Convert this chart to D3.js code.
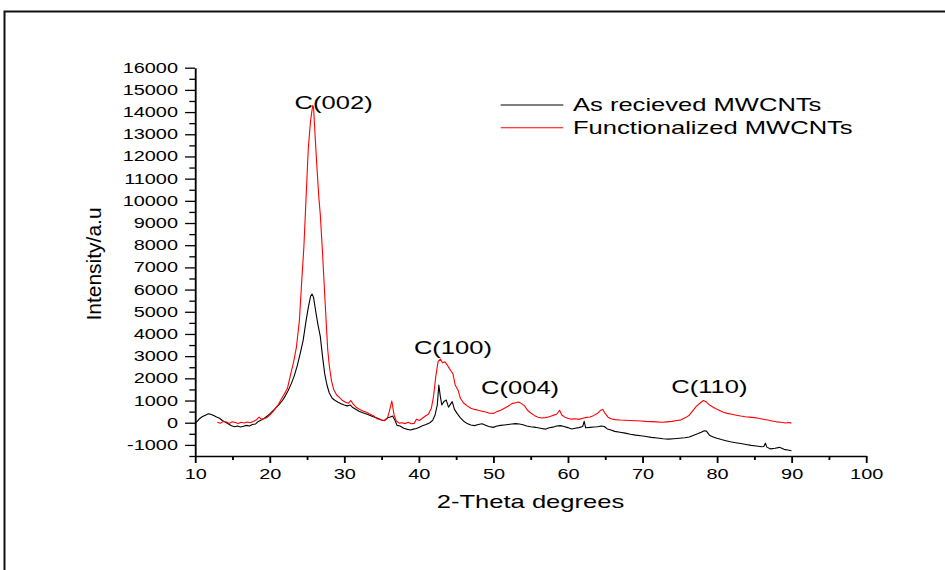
<!DOCTYPE html>
<html>
<head>
<meta charset="utf-8">
<script src="https://cdn.jsdelivr.net/npm/d3@7"></script>
<style>
  body { margin: 0; background: #fff; }
  svg { display: block; }
  text { font-family: "Liberation Sans", Arial, sans-serif; fill: #000; }
</style>
</head>
<body>
<div id="chart"></div>
<script>
var W = 945;
var H = 570;
var SX = 1.42; // the original picture is stretched sideways

// As received MWCNTs: [2-theta, intensity]
var asReceived = [
  [10.0,-40],[10.3,60],[10.6,180],[11.0,280],[11.4,340],[11.8,400],[12.1,380],[12.5,330],
  [12.9,260],[13.3,200],[13.7,90],[14.1,20],[14.5,-60],[14.9,-140],[15.3,-180],[15.7,-150],
  [16.1,-190],[16.5,-160],[16.9,-120],[17.3,-150],[17.7,-80],[18.1,-60],[18.5,60],[18.9,120],
  [19.3,200],[19.7,300],[20.1,420],[20.5,550],[20.9,690],[21.3,830],[21.7,990],[22.1,1200],
  [22.5,1450],[22.9,1750],[23.3,2100],[23.7,2550],[24.1,3100],[24.5,3700],[24.9,4600],[25.2,5200],
  [25.5,5700],[25.7,5800],[25.9,5650],[26.2,5000],[26.5,4400],[26.8,3900],[27.1,3000],[27.4,2200],
  [27.7,1700],[28.0,1350],[28.4,1100],[28.8,1000],[29.2,920],[29.6,860],[30.0,800],[30.4,760],
  [30.8,800],[31.1,700],[31.5,620],[32.0,520],[32.5,450],[33.0,390],[33.5,330],[34.0,260],
  [34.5,200],[35.0,120],[35.4,100],[35.8,220],[36.2,260],[36.5,300],[36.8,120],[37.1,-120],
  [37.5,-150],[38.0,-250],[38.5,-300],[38.9,-330],[39.3,-290],[39.7,-260],[40.1,-200],[40.5,-140],
  [41.0,-80],[41.5,0],[41.9,120],[42.2,350],[42.5,800],[42.7,1700],[42.9,1200],[43.1,800],
  [43.4,960],[43.7,1020],[44.0,700],[44.3,850],[44.5,950],[44.8,600],[45.2,400],[45.6,220],
  [46.0,80],[46.5,-40],[47.0,-100],[47.5,-130],[48.0,-80],[48.5,-50],[48.9,-100],[49.4,-170],
  [50.0,-210],[50.5,-150],[51.0,-120],[51.5,-100],[52.0,-80],[52.5,-60],[53.0,-40],[53.5,-60],
  [54.0,-90],[54.5,-150],[55.0,-180],[55.5,-200],[56.0,-230],[56.5,-260],[57.0,-290],[57.5,-230],
  [58.0,-200],[58.5,-150],[59.0,-130],[59.5,-170],[60.0,-220],[60.5,-280],[61.0,-250],[61.5,-220],
  [62.0,-170],[62.2,60],[62.4,-230],[63.0,-210],[63.5,-190],[64.0,-180],[64.5,-150],[64.9,-170],
  [65.3,-280],[65.8,-330],[66.3,-390],[67.0,-430],[67.7,-470],[68.4,-520],[69.1,-560],[69.8,-590],
  [70.5,-620],[71.2,-660],[72.0,-690],[72.8,-720],[73.5,-740],[74.2,-720],[75.0,-700],[75.7,-680],
  [76.3,-640],[76.9,-560],[77.4,-500],[77.9,-430],[78.3,-360],[78.6,-380],[79.0,-560],[79.5,-640],
  [80.0,-700],[80.6,-760],[81.2,-810],[81.8,-860],[82.5,-900],[83.2,-940],[83.9,-980],[84.6,-1020],
  [85.3,-1050],[86.0,-1080],[86.3,-1070],[86.5,-920],[86.7,-1100],[87.2,-1180],[87.8,-1150],[88.4,-1110],
  [89.0,-1200],[89.5,-1230],[90.0,-1260]
];

// Functionalized MWCNTs: [2-theta, intensity]
var functionalized = [
  [13.0,20],[13.4,-20],[13.8,60],[14.2,30],[14.6,-30],[15.0,40],[15.4,10],[15.8,-40],
  [16.2,20],[16.6,-10],[17.0,30],[17.4,0],[17.8,60],[18.2,120],[18.6,250],[18.9,150],
  [19.2,180],[19.6,220],[20.0,330],[20.4,480],[20.8,650],[21.2,830],[21.6,1080],[22.0,1300],
  [22.4,1550],[22.8,2150],[23.2,2700],[23.6,3400],[24.0,4600],[24.3,6300],[24.6,7900],[24.8,9400],
  [25.0,10900],[25.2,12400],[25.5,13600],[25.7,14100],[25.8,14300],[25.9,14200],[26.1,13000],[26.3,11800],
  [26.6,10200],[26.8,9400],[27.1,7700],[27.3,6400],[27.6,4500],[27.8,3300],[28.0,2600],[28.3,1900],
  [28.6,1500],[29.0,1250],[29.4,1130],[29.8,1000],[30.2,920],[30.6,880],[30.9,1000],[31.2,850],
  [31.6,700],[32.1,600],[32.6,520],[33.0,470],[33.5,380],[34.0,300],[34.4,180],[34.9,130],
  [35.4,90],[35.8,200],[36.1,560],[36.4,980],[36.7,350],[37.0,80],[37.4,-20],[37.8,0],
  [38.2,-40],[38.6,20],[39.0,-50],[39.4,-30],[39.7,160],[40.1,100],[40.5,200],[40.9,300],
  [41.3,380],[41.7,650],[42.0,1200],[42.3,2100],[42.6,2750],[42.9,2870],[43.2,2700],[43.5,2750],
  [43.8,2620],[44.1,2450],[44.4,2300],[44.6,2200],[44.9,1700],[45.3,1450],[45.6,1100],[46.0,900],
  [46.5,760],[47.0,650],[47.5,600],[48.0,560],[48.5,520],[49.0,480],[49.5,430],[50.0,420],
  [50.5,500],[51.0,560],[51.5,650],[52.0,740],[52.5,860],[53.0,900],[53.4,930],[53.8,860],
  [54.2,760],[54.6,560],[55.0,450],[55.5,330],[56.0,250],[56.5,210],[57.0,230],[57.5,270],
  [58.0,330],[58.5,380],[58.9,560],[59.2,350],[59.6,250],[60.0,200],[60.5,160],[61.0,180],
  [61.5,150],[62.0,200],[62.5,240],[63.0,260],[63.5,330],[64.0,430],[64.4,560],[64.7,600],
  [65.0,420],[65.4,250],[65.8,180],[66.3,140],[67.0,120],[67.7,110],[68.4,100],[69.1,90],
  [69.8,80],[70.5,60],[71.2,50],[71.9,40],[72.6,20],[73.3,40],[74.0,60],[74.6,100],
  [75.2,130],[75.8,230],[76.3,340],[76.8,560],[77.3,760],[77.8,900],[78.2,1000],[78.6,930],
  [79.0,800],[79.4,720],[79.8,640],[80.3,560],[80.8,480],[81.4,420],[82.0,380],[82.6,340],
  [83.2,300],[83.8,270],[84.4,250],[85.0,230],[85.6,200],[86.2,160],[86.8,120],[87.4,80],
  [88.0,40],[88.6,20],[89.2,-10],[89.6,10],[90.0,-20]
];

var seriesNames = ["As recieved MWCNTs", "Functionalized MWCNTs"];
var seriesColors = ["#000000", "#ff0000"];

var xMajor = [10, 20, 30, 40, 50, 60, 70, 80, 90, 100];
var xMinor = [15, 25, 35, 45, 55, 65, 75, 85, 95];
var yMajor = [-1000, 0, 1000, 2000, 3000, 4000, 5000, 6000, 7000, 8000,
              9000, 10000, 11000, 12000, 13000, 14000, 15000, 16000];
var yMinor = [-1500, -500, 500, 1500, 2500, 3500, 4500, 5500, 6500, 7500,
              8500, 9500, 10500, 11500, 12500, 13500, 14500, 15500];

// peak labels, placed in data units (centre x, baseline y)
var peakNames = ["C(002)", "C(100)", "C(004)", "C(110)"];
var peakX = [28.6, 44.6, 53.6, 79.0];
var peakY = [14130, 3110, 1307, 1352];

var svg = d3.select("#chart")
            .append("svg")
            .attr("width", W)
            .attr("height", H);

svg.append("rect").attr("width", W).attr("height", H).attr("fill", "#fff");

// outer frame (only top and left show in the picture)
svg.append("path")
   .attr("d", "M4.5," + H + "V11.5H" + W)
   .attr("fill", "none")
   .attr("stroke", "#111")
   .attr("stroke-width", 2);

var g = svg.append("g").attr("transform", "scale(" + SX + ",1)");

var x = d3.scaleLinear().domain([10, 100]).range([195 / SX, 866 / SX]);
var y = d3.scaleLinear().domain([-1500, 16000]).range([456, 67.7]);

// plain numbers, hyphen for minus
var fmt = function(d){ return String(d); };

// minor ticks
g.append("g")
 .attr("transform", "translate(0,456)")
 .call(d3.axisBottom(x).tickValues(xMinor).tickSize(4).tickFormat(""))
 .call(function(s){ s.select(".domain").remove(); });
g.append("g")
 .attr("transform", "translate(" + x(10) + ",0)")
 .call(d3.axisLeft(y).tickValues(yMinor).tickSize(4).tickFormat(""))
 .call(function(s){ s.select(".domain").remove(); });

// major axes
g.append("g")
 .attr("transform", "translate(0,456)")
 .call(d3.axisBottom(x).tickValues(xMajor).tickFormat(fmt)
         .tickSize(7).tickSizeOuter(0).tickPadding(6));
g.append("g")
 .attr("transform", "translate(" + x(10) + ",0)")
 .call(d3.axisLeft(y).tickValues(yMajor).tickFormat(fmt)
         .tickSize(7).tickSizeOuter(0).tickPadding(5));

g.selectAll(".tick line, .domain")
 .attr("stroke", "#000")
 .attr("stroke-width", 1.3);
g.selectAll(".tick text")
 .style("font-family", "'Liberation Sans', Arial, sans-serif")
 .style("font-size", "14px")
 .attr("fill", "#000");

// data lines
var line = d3.line()
             .x(function(d){ return x(d[0]); })
             .y(function(d){ return y(d[1]); });

[asReceived, functionalized].forEach(function(data, i){
  g.append("path")
   .datum(data)
   .attr("d", line)
   .attr("fill", "none")
   .attr("stroke", seriesColors[i])
   .attr("stroke-width", 1.1)
   .attr("vector-effect", "non-scaling-stroke")
   .attr("stroke-linejoin", "round");
});

// peak labels
peakNames.forEach(function(t, i){
  g.append("text")
   .attr("x", x(peakX[i]))
   .attr("y", y(peakY[i]))
   .attr("text-anchor", "middle")
   .style("font-size", "18px")
   .text(t);
});

// legend
seriesNames.forEach(function(t, i){
  var ly = 105 + i * 22.7;
  g.append("line")
   .attr("x1", 500.7 / SX).attr("x2", 563.3 / SX)
   .attr("y1", ly).attr("y2", ly)
   .attr("stroke", seriesColors[i])
   .attr("stroke-width", 1.1)
   .attr("vector-effect", "non-scaling-stroke");
  g.append("text")
   .attr("x", 573 / SX)
   .attr("y", ly + 6.5)
   .style("font-size", "18px")
   .text(t);
});

// axis titles
g.append("text")
 .attr("x", (x(10) + x(100)) / 2)
 .attr("y", 508)
 .attr("text-anchor", "middle")
 .style("font-size", "18px")
 .text("2-Theta degrees");

svg.append("text")
   .attr("transform", "translate(101,264) rotate(-90)")
   .attr("text-anchor", "middle")
   .style("font-size", "21px")
   .text("Intensity/a.u");
</script>
</body>
</html>
